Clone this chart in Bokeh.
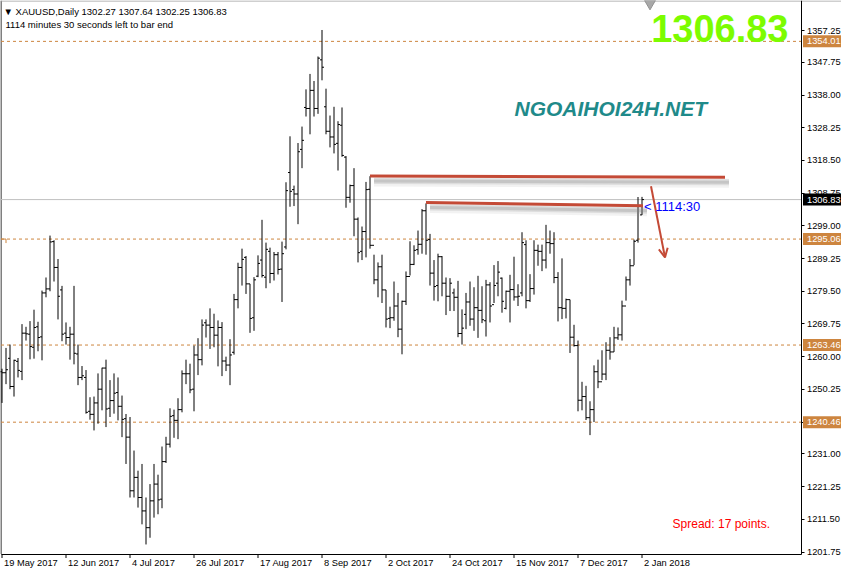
from bokeh.plotting import figure
from bokeh.models import (Range1d, FixedTicker, NumeralTickFormatter, Label,
                          Arrow, OpenHead, ColumnDataSource)
from bokeh.core.properties import value
from bokeh.embed import file_html
from bokeh.resources import INLINE

# ---------------- data ----------------
opens = [1255.5, 1255.2, 1259.5, 1251.1, 1258.6, 1255.6, 1267.0, 1266.7, 1262.8, 1268.9,
         1265.9, 1279.0, 1280.2, 1294.3, 1286.6, 1279.9, 1267.0, 1265.7, 1266.7, 1260.8,
         1253.8, 1253.8, 1243.7, 1242.8, 1246.2, 1250.3, 1256.6, 1244.6, 1246.9, 1249.3,
         1245.2, 1241.5, 1236.0, 1220.0, 1224.0, 1218.0, 1214.0, 1209.0, 1217.0, 1222.0,
         1217.5, 1228.7, 1233.9, 1242.4, 1241.0, 1244.2, 1254.9, 1254.9, 1250.3, 1260.5,
         1259.1, 1270.1, 1269.4, 1268.7, 1266.4, 1268.7, 1258.7, 1257.5, 1261.3, 1277.0,
         1286.6, 1289.6, 1281.7, 1271.6, 1284.0, 1288.8, 1283.7, 1291.4, 1284.8, 1290.4,
         1286.1, 1292.7, 1314.9, 1309.8, 1308.5, 1321.8, 1334.3, 1334.0, 1339.4, 1334.0,
         1348.5, 1334.5, 1327.2, 1325.5, 1323.6, 1329.0, 1319.5, 1307.5, 1311.0, 1301.0,
         1291.4, 1297.3, 1309.9, 1293.2, 1282.9, 1286.8, 1279.9, 1271.4, 1271.6, 1275.1,
         1268.2, 1276.5, 1283.9, 1287.5, 1291.9, 1293.5, 1303.5, 1294.9, 1284.9, 1281.2,
         1289.8, 1281.9, 1278.0, 1279.0, 1277.7, 1266.9, 1272.6, 1276.3, 1271.2, 1274.6,
         1273.8, 1270.7, 1281.4, 1275.5, 1281.9, 1283.4, 1274.4, 1279.5, 1280.0, 1277.8,
         1279.0, 1293.4, 1276.7, 1280.3, 1291.7, 1291.4, 1288.8, 1294.0, 1293.7, 1283.6,
         1274.6, 1274.4, 1277.0, 1265.8, 1263.3, 1247.0, 1248.1, 1241.8, 1244.2, 1255.5,
         1252.5, 1254.8, 1261.9, 1261.4, 1265.6, 1266.5, 1275.1, 1282.9, 1287.1, 1294.7,
         1302.27]
highs = [1256.4, 1262.6, 1263.6, 1259.1, 1259.6, 1269.7, 1268.9, 1270.6, 1274.0, 1270.4,
         1279.7, 1283.6, 1296.1, 1294.7, 1289.1, 1281.1, 1270.2, 1268.9, 1281.1, 1263.6,
         1257.2, 1256.0, 1247.9, 1248.1, 1255.0, 1256.7, 1259.1, 1253.0, 1255.0, 1253.8,
         1248.4, 1242.9, 1242.0, 1232.0, 1226.0, 1228.0, 1218.0, 1222.0, 1228.0, 1224.8,
         1233.2, 1236.1, 1244.6, 1244.2, 1247.6, 1255.9, 1259.1, 1257.9, 1263.3, 1265.5,
         1271.1, 1271.1, 1274.4, 1272.8, 1270.8, 1270.3, 1260.0, 1265.2, 1278.7, 1288.0,
         1292.2, 1290.0, 1281.7, 1283.7, 1290.2, 1300.8, 1294.0, 1292.5, 1291.2, 1291.2,
         1294.3, 1312.0, 1325.7, 1311.0, 1323.7, 1328.6, 1339.7, 1344.3, 1342.2, 1349.5,
         1357.4, 1339.9, 1331.9, 1334.5, 1330.2, 1334.3, 1319.8, 1311.3, 1316.2, 1301.5,
         1298.8, 1312.1, 1313.8, 1290.4, 1288.1, 1290.4, 1279.9, 1274.9, 1282.4, 1279.0,
         1276.7, 1285.4, 1294.4, 1293.2, 1297.6, 1304.0, 1305.7, 1296.6, 1288.8, 1290.7,
         1290.0, 1283.6, 1283.4, 1280.3, 1282.6, 1274.1, 1279.0, 1282.4, 1280.7, 1284.1,
         1281.0, 1282.9, 1282.2, 1287.3, 1288.5, 1283.6, 1279.7, 1284.4, 1289.8, 1281.6,
         1297.1, 1294.7, 1284.6, 1294.7, 1293.4, 1293.4, 1299.3, 1297.6, 1297.1, 1285.2,
         1289.3, 1277.3, 1277.0, 1269.5, 1264.8, 1252.5, 1251.3, 1246.7, 1257.4, 1259.1,
         1261.9, 1264.3, 1265.8, 1268.9, 1268.7, 1276.7, 1283.9, 1289.1, 1294.9, 1307.6,
         1307.64]
lows = [1246.2, 1251.8, 1250.3, 1248.1, 1253.8, 1253.0, 1264.8, 1259.2, 1259.4, 1261.6,
        1258.9, 1277.7, 1279.5, 1282.4, 1271.1, 1264.6, 1263.6, 1259.1, 1257.7, 1251.5,
        1253.0, 1243.0, 1241.2, 1238.0, 1240.0, 1244.0, 1239.0, 1242.0, 1243.0, 1241.0,
        1236.0, 1228.0, 1218.0, 1218.0, 1215.0, 1210.0, 1204.0, 1206.0, 1212.0, 1213.0,
        1214.8, 1228.3, 1232.9, 1235.8, 1235.4, 1243.4, 1251.8, 1249.1, 1243.7, 1254.5,
        1257.4, 1265.7, 1262.3, 1262.8, 1257.1, 1254.2, 1255.7, 1251.5, 1260.6, 1274.4,
        1281.2, 1278.7, 1267.1, 1267.7, 1283.7, 1283.6, 1280.4, 1281.9, 1282.7, 1284.5,
        1276.3, 1292.0, 1304.7, 1304.9, 1299.5, 1316.2, 1331.6, 1326.3, 1331.6, 1332.4,
        1342.4, 1326.3, 1322.4, 1320.6, 1315.5, 1319.6, 1304.4, 1305.9, 1295.9, 1288.1,
        1288.8, 1289.6, 1292.2, 1281.6, 1277.7, 1276.0, 1268.7, 1268.5, 1270.7, 1265.8,
        1260.7, 1275.4, 1284.2, 1287.3, 1290.4, 1290.7, 1290.4, 1281.2, 1276.7, 1276.5,
        1278.0, 1272.4, 1273.6, 1273.6, 1265.8, 1263.6, 1268.2, 1269.2, 1267.7, 1265.6,
        1270.0, 1266.0, 1270.2, 1276.0, 1278.0, 1273.1, 1274.1, 1270.2, 1276.7, 1275.1,
        1278.0, 1274.4, 1276.3, 1278.5, 1287.1, 1285.5, 1286.3, 1290.7, 1281.9, 1270.5,
        1271.2, 1271.4, 1261.1, 1263.0, 1243.7, 1244.0, 1241.1, 1236.6, 1240.5, 1250.6,
        1253.0, 1253.0, 1259.1, 1261.4, 1265.0, 1264.8, 1276.7, 1281.2, 1287.3, 1294.0,
        1302.25]
closes = [1255.2, 1256.1, 1251.1, 1258.9, 1255.9, 1267.0, 1266.8, 1263.0, 1268.7, 1265.7,
          1279.0, 1280.2, 1294.2, 1286.6, 1278.0, 1266.7, 1265.7, 1266.7, 1261.0, 1253.8,
          1254.3, 1243.4, 1242.8, 1246.2, 1250.3, 1256.6, 1244.4, 1246.9, 1249.1, 1245.2,
          1241.3, 1236.0, 1220.0, 1224.0, 1218.0, 1214.0, 1209.0, 1217.0, 1222.0, 1217.3,
          1228.7, 1233.9, 1242.2, 1241.0, 1244.2, 1254.9, 1254.9, 1250.1, 1260.5, 1259.1,
          1269.4, 1269.4, 1268.7, 1266.4, 1268.7, 1258.7, 1257.5, 1260.5, 1277.0, 1286.6,
          1289.0, 1281.7, 1271.4, 1282.9, 1287.8, 1284.2, 1292.0, 1284.8, 1290.4, 1286.0,
          1290.7, 1309.5, 1309.3, 1308.5, 1321.1, 1324.5, 1334.0, 1339.4, 1334.0, 1349.0,
          1346.3, 1327.2, 1325.5, 1323.3, 1329.2, 1320.0, 1307.5, 1311.0, 1301.0, 1291.0,
          1297.3, 1309.8, 1293.2, 1282.9, 1286.8, 1279.9, 1271.2, 1271.6, 1275.1, 1268.2,
          1276.5, 1283.9, 1287.5, 1291.7, 1293.5, 1303.5, 1294.7, 1284.9, 1280.9, 1289.8,
          1281.9, 1278.0, 1281.9, 1277.7, 1266.9, 1268.5, 1276.3, 1271.2, 1274.6, 1273.8,
          1271.0, 1281.4, 1275.1, 1281.2, 1285.2, 1276.5, 1279.5, 1280.0, 1277.8, 1278.0,
          1294.0, 1276.7, 1280.3, 1291.7, 1291.4, 1288.8, 1294.0, 1293.7, 1283.6, 1274.6,
          1274.4, 1277.0, 1265.8, 1263.3, 1247.0, 1248.1, 1241.8, 1244.2, 1255.5, 1252.5,
          1254.8, 1261.9, 1261.4, 1265.6, 1266.5, 1275.1, 1282.9, 1287.1, 1294.4, 1304.9,
          1306.83]

date_labels = ["19 May 2017", "12 Jun 2017", "4 Jul 2017", "26 Jul 2017", "17 Aug 2017",
               "8 Sep 2017", "2 Oct 2017", "24 Oct 2017", "15 Nov 2017", "7 Dec 2017", "2 Jan 2018"]
date_bars = [0, 16, 32, 48, 64, 80, 96, 112, 128, 144, 160]

price_ticks = [1357.25, 1347.75, 1338.00, 1328.25, 1318.50, 1308.75, 1299.00, 1289.25,
               1279.50, 1269.75, 1260.00, 1250.25, 1240.50, 1231.00, 1221.25, 1211.50, 1201.75]

level_lines = [1354.01, 1295.06, 1263.46, 1240.46]
last_price = 1306.83
header = "\u25BC XAUUSD,Daily  1302.27 1307.64 1302.25 1306.83"
timer_text = "1114 minutes 30 seconds left to bar end"

# trend lines drawn on the chart: (bar, price) pairs
res1 = [(92, 1313.9), (180.75, 1313.5)]
res2 = [(106, 1306.0), (160.25, 1305.0)]
arrow_pts = [(162.25, 1310.8), (165.75, 1289.6)]

# ---------------- layout (pixel geometry of the whole canvas) ----------------
W, H = 841, 569
PXX = 4.0                                           # px per bar
TOP_PX, BOT_PX = 30.0, 551.5                        # where first/last price tick sit
K = (BOT_PX - TOP_PX) / (price_ticks[0] - price_ticks[-1])
X0 = -0.375
X1 = X0 + W / PXX
YHI = price_ticks[0] + TOP_PX / K
YLO = YHI - H / K

def sx(fx):
    return X0 + fx / PXX

def sy(fy):
    return YHI - fy / K

XL = sx(0.5)      # chart left border
XA = sx(800.5)    # price scale line
YB = sy(553.5)    # chart bottom border

FONT = "Liberation Sans"
FS = "9.3px"
ORANGE = "#CD853F"
RED = "#C44A36"

p = figure(frame_width=W, frame_height=H, title=None,
           x_range=Range1d(X0, X1), y_range=Range1d(YLO, YHI),
           y_axis_location="right", output_backend="svg", toolbar_location=None,
           min_border=0)
p.grid.visible = False
p.outline_line_color = None
p.background_fill_color = "white"
p.border_fill_color = "white"

# ---- price axis (right) drawn at a fixed place inside the canvas ----
ya = p.yaxis[0]
ya.fixed_location = XA
ya.bounds = (YB, YHI)
ya.ticker = FixedTicker(ticks=price_ticks)
ya.formatter = NumeralTickFormatter(format="0.00")
ya.major_tick_out = 3
ya.major_tick_in = 0
ya.minor_tick_line_color = None
ya.major_label_standoff = 3
ya.major_label_text_font = FONT
ya.major_label_text_font_size = FS
ya.major_label_text_color = "black"
ya.axis_line_color = "black"
ya.major_tick_line_color = "black"

# ---- time axis (bottom): labels left-aligned after each tick ----
AW = {" ": .278, ".": .278, "M": .833, "a": .556, "y": .5, "J": .5, "u": .556, "n": .556,
      "l": .222, "A": .667, "g": .556, "S": .667, "e": .556, "p": .556, "O": .778,
      "c": .5, "t": .278, "N": .722, "o": .556, "v": .5, "D": .722}
fs_num = float(FS.replace("px", ""))

def text_w(t):
    return sum(AW.get(ch, .556) for ch in t) * fs_num

centers = [round(b + (2 + text_w(t) / 2) / PXX, 3) for b, t in zip(date_bars, date_labels)]
xa = p.xaxis[0]
xa.fixed_location = YB
xa.bounds = (XL, XA)
xa.ticker = FixedTicker(ticks=centers)
xa.major_label_overrides = {c: t for c, t in zip(centers, date_labels)}
xa.major_tick_line_color = None
xa.minor_tick_line_color = None
xa.major_tick_out = 0
xa.major_tick_in = 0
xa.major_label_standoff = 4
xa.major_label_text_font = FONT
xa.major_label_text_font_size = FS
xa.major_label_text_color = "black"
xa.axis_line_color = "black"

# tick marks at the dated bars
p.segment(x0=date_bars, y0=[YB] * len(date_bars), x1=date_bars,
          y1=[sy(557.5)] * len(date_bars), line_color="black", line_width=1)
# chart left border and window top edge
p.segment(x0=[XL], y0=[YB], x1=[XL], y1=[YHI], line_color="black", line_width=1)
p.segment(x0=[X0], y0=[sy(0.5)], x1=[X1], y1=[sy(0.5)], line_color="#A0A0A0", line_width=1)

# ---- level lines ----
p.segment(x0=[XL] * len(level_lines), y0=level_lines, x1=[XA] * len(level_lines),
          y1=level_lines, line_color=ORANGE, line_dash="3 3", line_width=1)
p.segment(x0=[XL], y0=[last_price], x1=[XA], y1=[last_price], line_color="#C0C0C0",
          line_width=1)
# small open-price marker at the left edge
mk = level_lines[1]
p.segment(x0=[XL, XL + 5 / PXX], y0=[mk, mk], x1=[XL + 5 / PXX, XL + 5 / PXX],
          y1=[mk, mk - 4 / K], line_color=ORANGE, line_width=1)

# ---- OHLC bars ----
idx = list(range(len(opens)))
src = ColumnDataSource(dict(i=idx, o=opens, h=highs, l=lows, c=closes,
                            il=[k - 0.5 for k in idx], ir=[k + 0.5 for k in idx]))
p.segment("i", "l", "i", "h", source=src, line_color="black", line_width=1)
p.segment("il", "o", "i", "o", source=src, line_color="black", line_width=1)
p.segment("i", "c", "ir", "c", source=src, line_color="black", line_width=1)

# ---- trend lines with soft shadow ----
for ln in (res1, res2):
    (xa0, ya0), (xb0, yb0) = ln
    for w, a, off in ((9, 0.10, 6), (6, 0.18, 5), (3, 0.25, 5)):
        p.line([xa0 + 4 / PXX, xb0 + 4 / PXX], [ya0 - off / K, yb0 - off / K],
               line_color="#808080", line_width=w, line_alpha=a)
    p.line([xa0, xb0], [ya0, yb0], line_color=RED, line_width=3)

(ax0, ay0), (ax1, ay1) = arrow_pts
p.add_layout(Arrow(end=OpenHead(size=9, line_color=RED, line_width=2),
                   x_start=ax0, y_start=ay0, x_end=ax1, y_end=ay1,
                   line_color=RED, line_width=2))

# chart-shift marker at the top
p.scatter(x=[162.0], y=[sy(3)], marker="inverted_triangle", size=11,
          fill_color="#A8A8A8", line_color="#909090")

# ---- texts ----
p.add_layout(Label(x=160.5, y=last_price - 7 / K, text="< 1114:30", text_font=FONT,
                   text_font_size="13px", text_color="#0000FF", text_baseline="middle"))
p.add_layout(Label(x=sx(3), y=sy(11), text=header, text_font=FONT,
                   text_font_size="9.5px", text_color="black", text_baseline="middle"))
p.add_layout(Label(x=sx(5), y=sy(24), text=timer_text, text_font=FONT,
                   text_font_size="9.5px", text_color="black", text_baseline="middle"))
p.add_layout(Label(x=sx(788), y=sy(28), text="1306.83", text_font=FONT,
                   text_font_size="38px", text_font_style="bold", text_color="#7CFC00",
                   text_align="right", text_baseline="middle"))
p.add_layout(Label(x=sx(514), y=sy(108), text="NGOAIHOI24H.NET", text_font=FONT,
                   text_font_size="21px", text_font_style="bold italic", text_color="#1F8A8A",
                   text_baseline="middle"))
p.add_layout(Label(x=sx(769.5), y=sy(523), text="Spread: 17 points.", text_font=FONT,
                   text_font_size="12px", text_color="#FF0000", text_align="right",
                   text_baseline="middle"))

# ---- price boxes over the price scale ----
box_vals = level_lines + [last_price]
box_cols = [ORANGE] * len(level_lines) + ["black"]
p.quad(left=[XA + 2 / PXX] * len(box_vals), right=[X1] * len(box_vals),
       bottom=[v - 6 / K for v in box_vals], top=[v + 6 / K for v in box_vals],
       fill_color=box_cols, line_color=None, level="overlay")
p.text(x=[XA + 6 / PXX] * len(box_vals), y=box_vals, text=[f"{v:.2f}" for v in box_vals],
       text_font=value(FONT), text_font_size=FS, text_color="white",
       text_baseline="middle", level="overlay")

open("out.html", "w").write(file_html(p, INLINE))
